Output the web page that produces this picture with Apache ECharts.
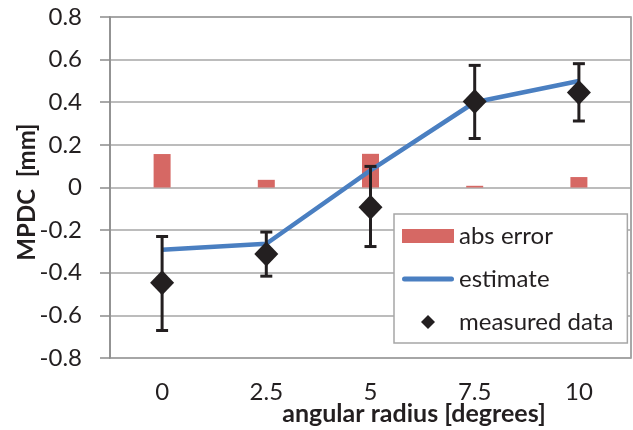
<!DOCTYPE html>
<html>
<head>
<meta charset="utf-8">
<script src="https://cdn.jsdelivr.net/npm/echarts@6/dist/echarts.min.js"></script>
<style>
  html, body { margin: 0; padding: 0; background: #fff; }
  #chart { width: 633px; height: 430px; }
</style>
</head>
<body>
<div id="chart"></div>
<script>
  // 数据
  const categories = ['0', '2.5', '5', '7.5', '10'];
  const absError = [0.157, 0.036, 0.158, 0.008, 0.049];
  const estimate = [-0.292, -0.264, 0.08, 0.40, 0.50];
  const measured = [-0.447, -0.312, -0.093, 0.404, 0.446];
  const errLow = [-0.671, -0.416, -0.277, 0.230, 0.312];
  const errHigh = [-0.230, -0.209, 0.099, 0.573, 0.581];
  const yTicks = [-0.8, -0.6, -0.4, -0.2, 0, 0.2, 0.4, 0.6, 0.8];

  const font = 'Lato, "Open Sans", sans-serif';
  const diamond = 'path://M0,-1 L1,0 L0,1 L-1,0 Z';
  const lineIcon = 'path://M2.5,0 L49.5,0 A2.5,2.5 0 0 1 49.5,5 L2.5,5 A2.5,2.5 0 0 1 2.5,0 Z';

  const mycharts = echarts.init(document.getElementById('chart'));
  mycharts.setOption({
    animation: false,
    grid: {
      left: 110, right: 2, top: 17, bottom: 72,
      show: true, borderColor: '#8c8c8c', borderWidth: 1.5
    },
    legend: {
      orient: 'vertical',
      left: 394, top: 214,
      padding: [10, 14, 9, 8],
      itemGap: 19,
      itemWidth: 52, itemHeight: 14,
      backgroundColor: '#fff',
      borderColor: '#a6a6a6', borderWidth: 1.5,
      borderRadius: 0,
      textStyle: { fontFamily: font, fontSize: 24, lineHeight: 24, color: '#231f20' },
      data: [
        { name: 'abs error', icon: 'rect' },
        { name: 'estimate', icon: lineIcon },
        { name: 'measured data', icon: diamond, itemStyle: { opacity: 1 } }
      ]
    },
    xAxis: {
      type: 'category',
      data: categories,
      axisLine: { show: false },
      axisTick: { show: false },
      axisLabel: { fontFamily: font, fontSize: 24, color: '#231f20', margin: 22 }
    },
    yAxis: {
      type: 'value',
      min: -0.8, max: 0.8, interval: 0.2,
      axisLine: { show: true, lineStyle: { color: '#8c8c8c', width: 1.5 } },
      axisTick: { show: true, length: 10, lineStyle: { color: '#8c8c8c', width: 1.5 } },
      splitLine: { lineStyle: { color: '#a6a6a6', width: 1.5 } },
      axisLabel: {
        fontFamily: font, fontSize: 24, color: '#231f20', margin: 28,
        formatter: v => {
          const t = yTicks.find(k => Math.abs(k - v) < 1e-6);
          return t === undefined ? '' : String(t);
        }
      }
    },
    graphic: [
      {
        type: 'text', x: 27, y: 192, rotation: Math.PI / 2,
        style: {
          text: 'MPDC  [mm]', fontFamily: font, fontSize: 24, fontWeight: 'bold',
          fill: '#231f20', align: 'center', verticalAlign: 'middle'
        }
      },
      {
        type: 'text', x: 414, y: 414,
        style: {
          text: 'angular radius [degrees]', fontFamily: font, fontSize: 25, fontWeight: 'bold',
          fill: '#231f20', align: 'center', verticalAlign: 'middle'
        }
      }
    ],
    series: [
      {
        name: 'abs error',
        type: 'bar',
        data: absError,
        barWidth: 17,
        itemStyle: { color: '#d66864' },
        z: 1
      },
      {
        name: 'estimate',
        type: 'line',
        data: estimate,
        symbol: 'none',
        lineStyle: { color: '#4a7fc1', width: 4.5 },
        itemStyle: { color: '#4a7fc1' },
        z: 2
      },
      {
        name: 'errbars',
        type: 'custom',
        data: categories.map((c, i) => [i, errLow[i], errHigh[i]]),
        renderItem: (params, api) => {
          const lo = api.coord([api.value(0), api.value(1)]);
          const hi = api.coord([api.value(0), api.value(2)]);
          const w = 6;
          const st = { stroke: '#231f20', lineWidth: 3 };
          return {
            type: 'group',
            children: [
              { type: 'line', shape: { x1: lo[0], y1: lo[1], x2: hi[0], y2: hi[1] }, style: st },
              { type: 'line', shape: { x1: lo[0] - w, y1: lo[1], x2: lo[0] + w, y2: lo[1] }, style: st },
              { type: 'line', shape: { x1: hi[0] - w, y1: hi[1], x2: hi[0] + w, y2: hi[1] }, style: st }
            ]
          };
        },
        z: 3
      },
      {
        name: 'measured data',
        type: 'scatter',
        data: measured,
        symbol: diamond,
        symbolSize: [24, 25],
        itemStyle: { color: '#231f20', opacity: 1 },
        z: 4
      }
    ]
  });
</script>
</body>
</html>
